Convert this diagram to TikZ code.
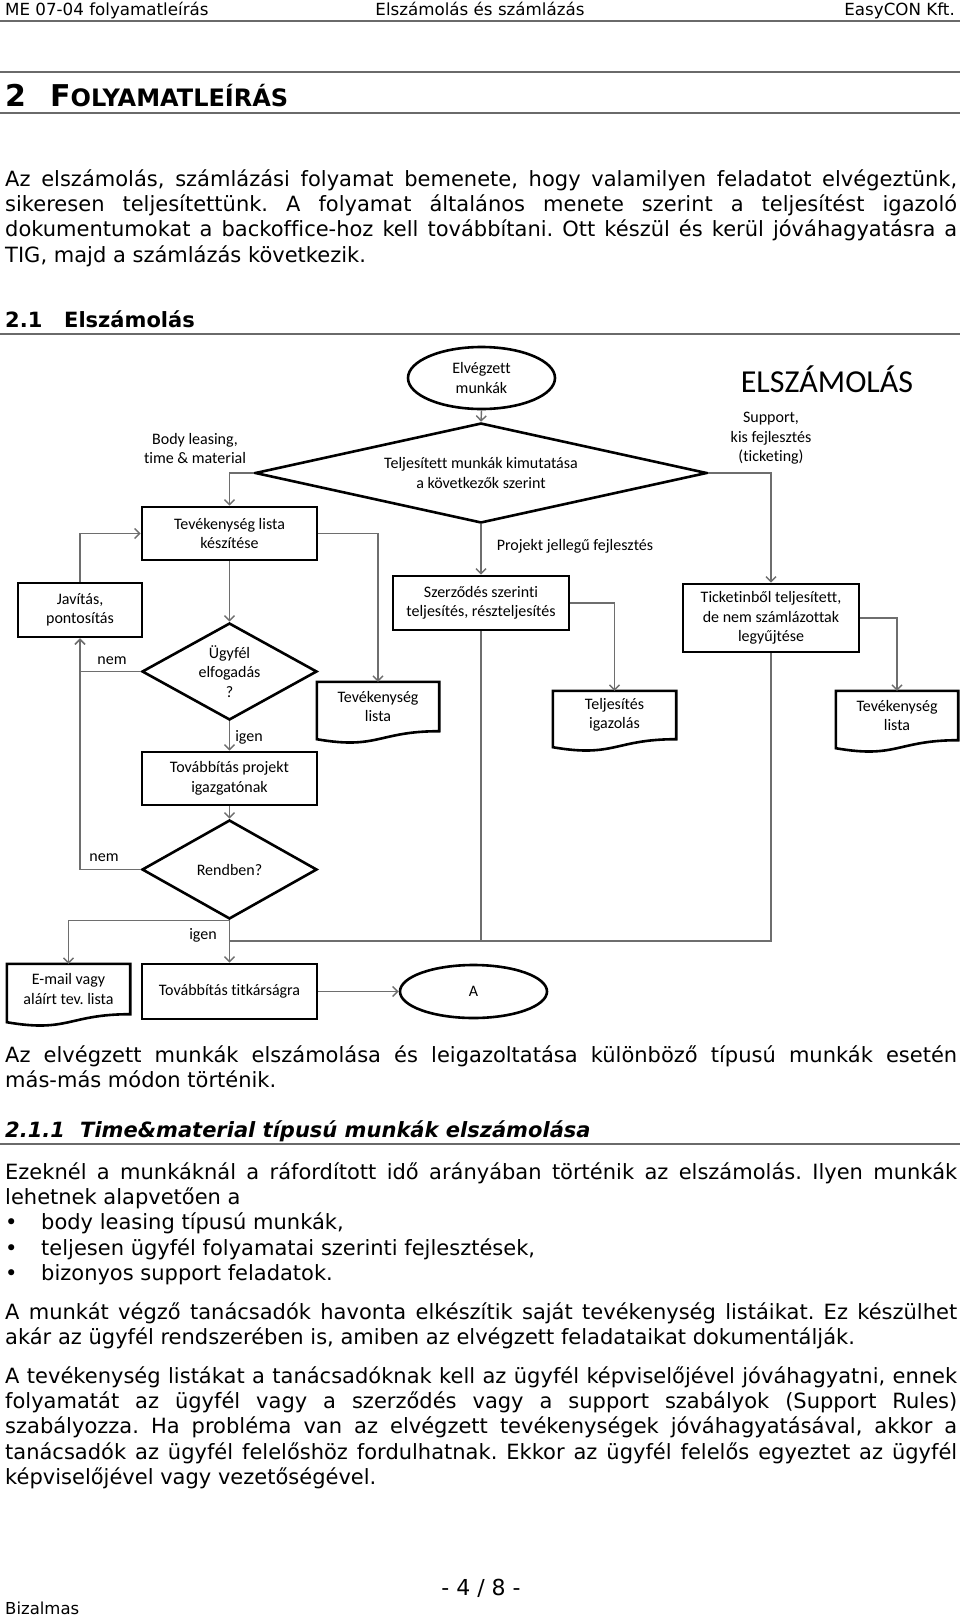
\documentclass[tikz,border=0pt]{standalone}
\usepackage{fontspec}
\setmainfont{DejaVu Sans}[Ligatures=NoCommon]
\newfontfamily\calib{Carlito}[Ligatures=NoCommon]
\usetikzlibrary{shapes.geometric,arrows.meta,calc}
\definecolor{connc}{HTML}{6E6E6E}
\definecolor{rulecol}{HTML}{6A6A6A}
\newcommand\flowfont{\calib\fontsize{16}{19.6}\selectfont}
\newcommand\bodyfont{\fontsize{21}{25.4}\selectfont}
\newcommand\hdrfont{\fontsize{16.7}{18}\selectfont}
\newcommand\docoutline[1]{\draw[black, line width=2.6pt, line join=miter]
  (#1.south east) .. controls (#1.south) and ($(#1.south)+(0,18.7)$) .. ($(#1.south west)+(0,8)$)
  -- (#1.north west) -- (#1.north east) -- cycle;}
\frenchspacing
\begin{document}
\frenchspacing
\begin{tikzpicture}[x=1pt,y=-1pt,
  every node/.style={inner sep=0pt},
  box/.style={draw=black, line width=2.6pt, rectangle, align=center, font=\flowfont},
  dia/.style={draw=black, line width=2.6pt, diamond, align=center, font=\flowfont},
  ell/.style={draw=black, line width=2.6pt, ellipse, align=center, font=\flowfont},
  docnode/.style={rectangle, align=center, font=\flowfont},
  lbl/.style={align=center, font=\flowfont},
  conn/.style={draw=connc, line width=1.4pt, -{Straight Barb[length=5pt,width=10pt]}},
  link/.style={draw=connc, line width=1.4pt},
  bl/.style={anchor=base west, font=\bodyfont\frenchspacing},
  rulel/.style={draw=rulecol, line width=1.6pt}
]
\useasboundingbox (0,0) rectangle (960,1617);
\fill[white] (0,0) rectangle (960,1617);

% ---------- header ----------
\node[anchor=base west, font=\hdrfont] (hl) at (5,15) {ME 07-04 folyamatleírás};
\node[anchor=base, font=\hdrfont] (hc) at (480,15) {Elszámolás és számlázás};
\node[anchor=base east, font=\hdrfont] (hr) at (955,15) {EasyCON Kft.};
\draw[draw=rulecol, line width=2.6pt] (0,21) -- (960,21);

% ---------- heading 2 ----------
\draw[rulel] (0,72) -- (960,72);
\node[anchor=base west, font=\bfseries\fontsize{30}{30}\selectfont] (h2n) at (5,106.6) {2};
\node[anchor=base west] (h2t) at (50,106.6) {{\bfseries\fontsize{30}{30}\selectfont F}{\bfseries\fontsize{24}{24}\selectfont OLYAMATLEÍRÁS}};
\draw[rulel] (0,113) -- (960,113);

\node[bl] (p1a) at (5,186) {\hbox to 952pt{Az elszámolás, számlázási folyamat bemenete, hogy valamilyen feladatot elvégeztünk,}};
\node[bl] (p1b) at (5,211.4) {\hbox to 952pt{sikeresen teljesítettünk. A folyamat általános menete szerint a teljesítést igazoló}};
\node[bl] (p1c) at (5,236.8) {\hbox to 952pt{dokumentumokat a backoffice-hoz kell továbbítani. Ott készül és kerül jóváhagyatásra a}};
\node[bl] (p1d) at (5,262.2) {TIG, majd a számlázás következik.};

% ---------- heading 2.1 ----------
\node[anchor=base west, font=\bfseries\fontsize{21}{24}\selectfont] (h21n) at (5,327) {2.1};
\node[anchor=base west, font=\bfseries\fontsize{21}{24}\selectfont] (h21t) at (64,327) {Elszámolás};
\draw[rulel] (0,334) -- (960,334);

% ---------- flowchart ----------
\node[ell, minimum width=147pt, minimum height=62pt] (ell1) at (481.5,378) {Elvégzett\\munkák};
\node[dia, minimum width=452pt, minimum height=100pt, aspect=4.52] (bigd) at (481,473) {Teljesített munkák kimutatása\\a következők szerint};
\node[lbl] (bodyl) at (195,448.5) {Body leasing,\\time \& material};
\node[lbl] (suppl) at (771,438.5) {Support,\\kis fejlesztés\\(ticketing)};
\node[anchor=base, font=\calib\fontsize{32}{34}\selectfont] (title) at (827,392.5) {ELSZÁMOLÁS};
\node[lbl] (projl) at (575,546) {Projekt jellegű fejlesztés};

\node[box, minimum width=175pt, minimum height=53pt] (tlk) at (229.5,533.5) {Tevékenység lista\\készítése};
\node[box, minimum width=124pt, minimum height=54pt] (javitas) at (80,610) {Javítás,\\pontosítás};
\node[dia, minimum width=175pt, minimum height=97pt, aspect=1.8] (ugyfel) at (229.5,671.5) {Ügyfél\\elfogadás\\?};
\node[box, minimum width=175pt, minimum height=53pt] (tovproj) at (229.5,778.5) {Továbbítás projekt\\igazgatónak};
\node[dia, minimum width=175pt, minimum height=99pt, aspect=1.77] (rendben) at (229.5,869.5) {Rendben?};
\node[docnode, minimum width=123pt, minimum height=50pt] (email) at (68.5,989) {E-mail vagy\\aláírt tev. lista};
\node[box, minimum width=175pt, minimum height=55pt] (tovtit) at (229.5,991.5) {Továbbítás titkárságra};
\node[ell, minimum width=147pt, minimum height=53pt] (ellA) at (473.5,991.5) {A};
\node[docnode, minimum width=122pt, minimum height=49pt] (tevlista1) at (378,706.5) {Tevékenység\\lista};
\node[box, minimum width=176pt, minimum height=54pt] (szerz) at (481,603) {Szerződés szerinti\\teljesítés, részteljesítés};
\node[docnode, minimum width=123pt, minimum height=48pt] (telj) at (614.5,715) {Teljesítés\\igazolás};
\node[box, minimum width=176pt, minimum height=68pt] (ticket) at (771,618) {Ticketinből teljesített,\\de nem számlázottak\\legyűjtése};
\node[docnode, minimum width=122pt, minimum height=49pt] (tevlista2) at (897,715.5) {Tevékenység\\lista};

\docoutline{email}
\docoutline{tevlista1}
\docoutline{telj}
\docoutline{tevlista2}

\node[lbl] (nem1) at (112,661) {nem};
\node[lbl] (nem2) at (104,858) {nem};
\node[lbl] (igen1) at (249,737) {igen};
\node[lbl] (igen2) at (203,935) {igen};

\draw[conn] (ell1.south) -- (bigd.north);
\draw[conn] (bigd.west) -| (tlk.north);
\draw[conn] (bigd.east) -| (ticket.north);
\draw[conn] (bigd.south) -- (szerz.north);
\draw[conn] (tlk.east) -| (tevlista1.north);
\draw[conn] (tlk.south) -- (ugyfel.north);
\draw[conn] (ugyfel.south) -- (tovproj.north);
\draw[conn] (ugyfel.west) -| (javitas.south);
\draw[conn] (rendben.west) -| (javitas.south);
\draw[conn] (javitas.north) |- (tlk.west);
\draw[conn] (tovproj.south) -- (rendben.north);
\draw[conn] (rendben.south) -- (tovtit.north);
\draw[conn] (rendben.south) -| (email.north);
\coordinate (j1) at (229.5,941);
\draw[link] (szerz.south) |- (j1);
\draw[link] (ticket.south) |- (j1);
\draw[conn] (szerz.east) -| (telj.north);
\draw[conn] (ticket.east) -| (tevlista2.north);
\draw[conn] (tovtit.east) -- (ellA.west);

% ---------- text after chart ----------
\node[bl] (p2a) at (5,1062) {\hbox to 952pt{Az elvégzett munkák elszámolása és leigazoltatása különböző típusú munkák esetén}};
\node[bl] (p2b) at (5,1087.4) {más-más módon történik.};

\node[anchor=base west, font=\bfseries\itshape\fontsize{21}{24}\selectfont] (h211n) at (5,1137.5) {2.1.1};
\node[anchor=base west, font=\bfseries\itshape\fontsize{21}{24}\selectfont] (h211t) at (80,1137.5) {Time\&material típusú munkák elszámolása};
\draw[rulel] (0,1144) -- (960,1144);

\node[bl] (p3a) at (5,1179) {\hbox to 952pt{Ezeknél a munkáknál a ráfordított idő arányában történik az elszámolás. Ilyen munkák}};
\node[bl] (p3b) at (5,1204.4) {lehetnek alapvetően a};
\node[bl] (b1d) at (5,1229.8) {•};
\node[bl] (b1) at (41,1229.8) {body leasing típusú munkák,};
\node[bl] (b2d) at (5,1255.2) {•};
\node[bl] (b2) at (41,1255.2) {teljesen ügyfél folyamatai szerinti fejlesztések,};
\node[bl] (b3d) at (5,1280.6) {•};
\node[bl] (b3) at (41,1280.6) {bizonyos support feladatok.};

\node[bl] (p4a) at (5,1319) {\hbox to 952pt{A munkát végző tanácsadók havonta elkészítik saját tevékenység listáikat. Ez készülhet}};
\node[bl] (p4b) at (5,1344.4) {akár az ügyfél rendszerében is, amiben az elvégzett feladataikat dokumentálják.};

\node[bl] (p5a) at (5,1383) {\hbox to 952pt{A tevékenység listákat a tanácsadóknak kell az ügyfél képviselőjével jóváhagyatni, ennek}};
\node[bl] (p5b) at (5,1408.4) {\hbox to 952pt{folyamatát az ügyfél vagy a szerződés vagy a support szabályok (Support Rules)}};
\node[bl] (p5c) at (5,1433.8) {\hbox to 952pt{szabályozza. Ha probléma van az elvégzett tevékenységek jóváhagyatásával, akkor a}};
\node[bl] (p5d) at (5,1459.2) {\hbox to 952pt{tanácsadók az ügyfél felelőshöz fordulhatnak. Ekkor az ügyfél felelős egyeztet az ügyfél}};
\node[bl] (p5e) at (5,1484.6) {képviselőjével vagy vezetőségével.};

% ---------- footer ----------
\node[anchor=base, font=\fontsize{22}{24}\selectfont] (pg) at (481,1595) {- 4 / 8 -};
\node[anchor=base west, font=\fontsize{16.5}{18}\selectfont] (biz) at (5,1614) {Bizalmas};
\end{tikzpicture}
\end{document}
